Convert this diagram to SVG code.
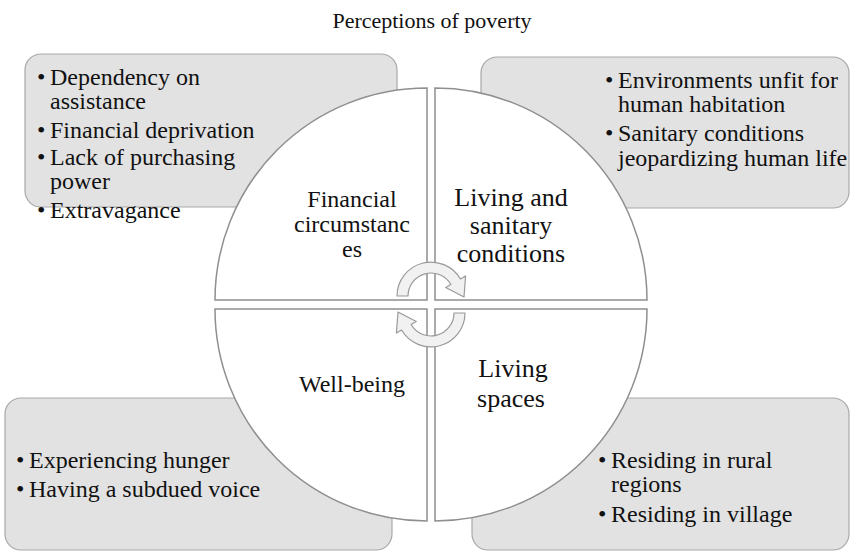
<svg xmlns="http://www.w3.org/2000/svg" width="850" height="552" viewBox="0 0 850 552">
  <style>
    .box { fill: #e2e2e2; stroke: #a8a8a8; stroke-width: 1.2; }
    .quarter { fill: #ffffff; stroke: #8f8f8f; stroke-width: 1.5; }
    .arrow { fill: #f1f1f1; stroke: #9a9a9a; stroke-width: 1.2; stroke-linejoin: round; }
    text { font-family: "Liberation Serif", "Times New Roman", serif; fill: #111111; }
    .item { font-size: 24px; }
    .label { font-size: 24px; text-anchor: middle; }
    .wide { font-size: 26px; }
    .title { font-size: 22px; text-anchor: middle; }
  </style>
  <defs>
    <!-- circular arrow: band over the top, head pointing down-right -->
    <path id="circArrow" class="arrow" d="M397,296 A34,34 0 0,1 460.4,279 L465.6,276 L464,297 L445.7,287.5 L450.9,284.5 A23,23 0 0,0 408,296 Z"/>
  </defs>

  <rect width="850" height="552" fill="#ffffff"/>

  <text class="title" x="432" y="28">Perceptions of poverty</text>

  <!-- detail boxes behind the circle -->
  <g id="box-financial">
    <rect class="box" x="25" y="54" width="372" height="153" rx="16"/>
    <text class="item" x="37" y="85">•</text>
    <text class="item" x="50" y="85">Dependency on</text>
    <text class="item" x="50" y="109">assistance</text>
    <text class="item" x="37" y="138">•</text>
    <text class="item" x="50" y="138">Financial deprivation</text>
    <text class="item" x="37" y="165">•</text>
    <text class="item" x="50" y="165">Lack of purchasing</text>
    <text class="item" x="50" y="189">power</text>
    <text class="item" x="37" y="218">•</text>
    <text class="item" x="50" y="218">Extravagance</text>
  </g>

  <g id="box-sanitary">
    <rect class="box" x="481" y="57" width="368" height="151" rx="16"/>
    <text class="item" x="605" y="88">•</text>
    <text class="item" x="618" y="88">Environments unfit for</text>
    <text class="item" x="618" y="112">human habitation</text>
    <text class="item" x="605" y="141">•</text>
    <text class="item" x="618" y="141">Sanitary conditions</text>
    <text class="item" x="618" y="166">jeopardizing human life</text>
  </g>

  <g id="box-wellbeing">
    <rect class="box" x="5" y="398" width="387" height="152" rx="16"/>
    <text class="item" x="16" y="468">•</text>
    <text class="item" x="29" y="468">Experiencing hunger</text>
    <text class="item" x="16" y="497">•</text>
    <text class="item" x="29" y="497">Having a subdued voice</text>
  </g>

  <g id="box-spaces">
    <rect class="box" x="472" y="398" width="377" height="152" rx="16"/>
    <text class="item" x="598" y="468">•</text>
    <text class="item" x="611" y="468">Residing in rural</text>
    <text class="item" x="611" y="492">regions</text>
    <text class="item" x="598" y="522">•</text>
    <text class="item" x="611" y="522">Residing in village</text>
  </g>

  <!-- four quarters of the circle -->
  <g id="q-financial">
    <path class="quarter" d="M427,300 L215,300 A212,212 0 0,1 427,88 Z"/>
    <text class="label" x="352" y="207">Financial</text>
    <text class="label" x="352" y="232">circumstanc</text>
    <text class="label" x="352" y="257">es</text>
  </g>
  <g id="q-sanitary">
    <path class="quarter" d="M435,300 L435,88 A212,212 0 0,1 647,300 Z"/>
    <text class="label wide" x="511" y="206">Living and</text>
    <text class="label wide" x="511" y="234">sanitary</text>
    <text class="label wide" x="511" y="262">conditions</text>
  </g>
  <g id="q-wellbeing">
    <path class="quarter" d="M427,309 L427,521 A212,212 0 0,1 215,309 Z"/>
    <text class="label" x="352" y="392">Well-being</text>
  </g>
  <g id="q-spaces">
    <path class="quarter" d="M435,309 L647,309 A212,212 0 0,1 435,521 Z"/>
    <text class="label wide" x="513" y="377">Living</text>
    <text class="label wide" x="511" y="407">spaces</text>
  </g>

  <!-- cycle arrows in the middle -->
  <g id="connectors">
    <use href="#circArrow"/>
    <use href="#circArrow" transform="rotate(180 431 304.5)"/>
  </g>
</svg>
